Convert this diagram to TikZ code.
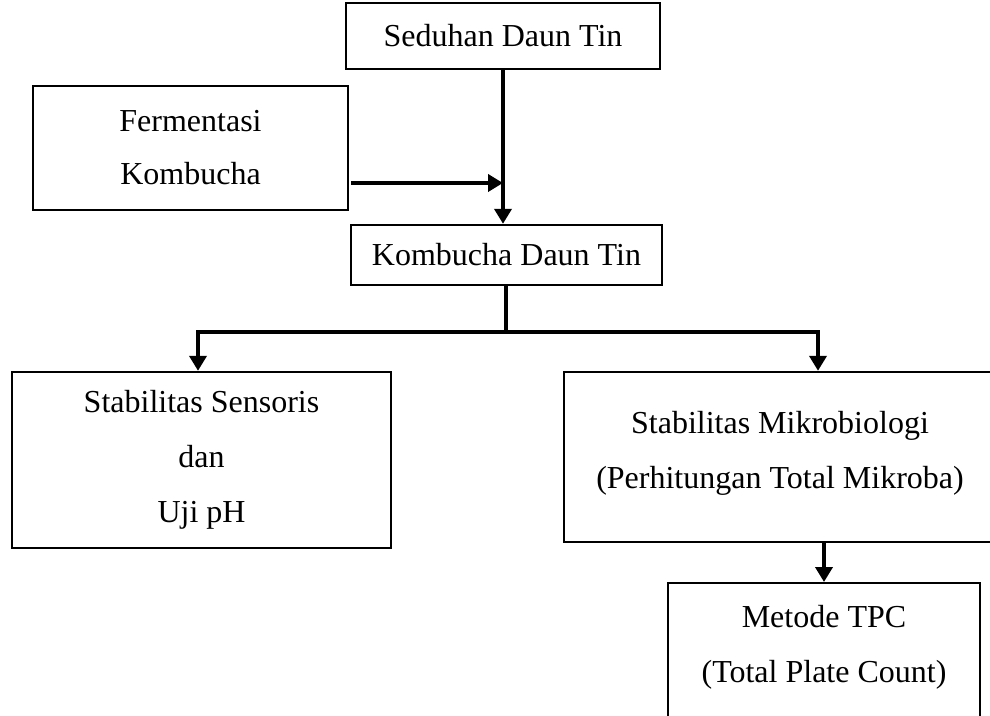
\documentclass[tikz,border=0pt]{standalone}
\usepackage{fontspec}
\setmainfont{Liberation Serif}
\usetikzlibrary{arrows.meta}

\begin{document}
\begin{tikzpicture}[x=0.5pt, y=-0.5pt, >={Triangle[length=7.5pt,width=8.5pt]},
    box/.style={draw, rectangle, line width=1.2pt, align=center, inner sep=0pt,
      font=\fontsize{16}{27.5}\selectfont},
    flow/.style={->, line width=2pt}]
      \useasboundingbox (0,0) rectangle (990,716);
      \clip (0,0) rectangle (990,716);

      % Inputs
      \node[box, minimum width=157pt, minimum height=33pt] (seduhan) at (503,36) {Seduhan Daun Tin};
      \node[box, minimum width=157.5pt, minimum height=62pt, font=\fontsize{16}{26.5}\selectfont] (fermentasi) at (190.5,148) {Fermentasi\\Kombucha};

      % Product
      \node[box, minimum width=155.5pt, minimum height=30pt] (kombucha) at (506.5,255) {Kombucha Daun Tin};

      % Tests
      \node[box, minimum width=189.5pt, minimum height=88pt] (sensoris) at (201.5,460) {Stabilitas Sensoris\\dan\\Uji pH};
      \node[box, minimum width=216pt, minimum height=85pt] (mikro) at (780,457) {Stabilitas Mikrobiologi\\(Perhitungan Total Mikroba)\\[-20.5pt]\mbox{}};
      \node[box, minimum width=156pt, minimum height=88pt, anchor=north] (tpc) at (824,582) {Metode TPC\\(Total Plate Count)\\\mbox{}};

      % Junctions
      \coordinate (join) at (503,183);
      \coordinate (split) at (506,332);
      \coordinate (toleft) at (198,332);
      \coordinate (toright) at (818,332);

      \draw[flow] (seduhan.south -| join) -- (kombucha.north -| join);
      \draw[flow] ([xshift=1pt]fermentasi.east |- join) -- (join);
      \draw[line width=2pt] (kombucha.south -| split) -- (split);
      \draw[flow] (split) -- (toleft) -- (toleft |- sensoris.north);
      \draw[flow] (split) -- (toright) -- (toright |- mikro.north);
      \draw[flow] (tpc.north |- mikro.south) -- (tpc.north);
\end{tikzpicture}
\end{document}
